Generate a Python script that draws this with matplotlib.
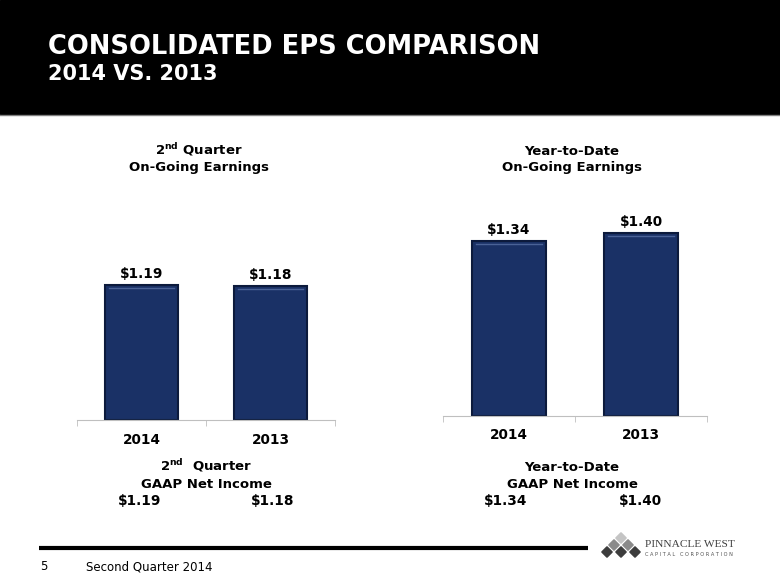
import matplotlib
matplotlib.use("Agg")
import matplotlib.pyplot as plt
from matplotlib.patches import Rectangle, Polygon

# data
years = ["2014", "2013"]
qtr_ongoing = [1.19, 1.18]
ytd_ongoing = [1.34, 1.40]
qtr_gaap = [1.19, 1.18]
ytd_gaap = [1.34, 1.40]

W, H = 780, 585
BAR = "#1a3166"
EDGE = "#0c1a3c"
AXC = "#bfbfbf"

fig = plt.figure(figsize=(7.8, 5.85), dpi=100)
fig.patch.set_facecolor("white")

# background layer in pixel coords (y down)
bg = fig.add_axes([0, 0, 1, 1])
bg.set_xlim(0, W)
bg.set_ylim(H, 0)
bg.axis("off")
bg.set_zorder(0)

bg.add_patch(Rectangle((0, 0), W, 114, color="black"))
bg.plot([0, W], [114.5, 114.5], color="#7f7f7f", lw=1)
bg.text(48, 54, "CONSOLIDATED EPS COMPARISON", color="white", fontsize=18.5,
        fontweight="bold", va="baseline")
bg.text(48, 80, "2014 VS. 2013", color="white", fontsize=15,
        fontweight="bold", va="baseline")


def panel(left, right, base, top, scale, values, title1, title_cx):
    ax = fig.add_axes([left / W, 1 - base / H, (right - left) / W, (base - top) / H])
    ax.set_zorder(1)
    ax.patch.set_alpha(0)
    ax.set_xlim(-0.5, 1.5)
    ax.set_ylim(0, (base - top) / scale)
    xs = range(len(values))
    ax.bar(xs, values, width=0.56, color=BAR, edgecolor=EDGE, lw=1.5)
    # light bevel line just under the top edge
    off = 3.0 / scale
    for i, v in enumerate(values):
        ax.plot([i - 0.25, i + 0.25], [v - off, v - off], color="#4a6296", lw=1)
        ax.annotate(f"${v:.2f}", (i, v), xytext=(0, 5), textcoords="offset points",
                    ha="center", va="baseline", fontsize=9.8, fontweight="bold")
    for s in ["left", "right", "top"]:
        ax.spines[s].set_visible(False)
    ax.spines["bottom"].set_color(AXC)
    ax.set_yticks([])
    ax.set_xticks(range(len(years)), years)
    ax.set_xticks([-0.5, 0.5, 1.5], minor=True)
    ax.tick_params(axis="x", which="major", length=0, pad=9, labelsize=9.8)
    ax.tick_params(axis="x", which="minor", length=4, color=AXC, direction="out")
    plt.setp(ax.get_xticklabels(), fontweight="bold")
    bg.text(title_cx, 155, title1, ha="center", va="baseline", fontsize=9.5, fontweight="bold")
    bg.text(title_cx, 171, "On-Going Earnings", ha="center", va="baseline",
            fontsize=9.5, fontweight="bold")
    return ax


panel(77, 335, 420, 190, 113.5, qtr_ongoing, r"2$^{\mathbf{nd}}$ Quarter", 199)
panel(443, 707, 415.7, 190, 130.5, ytd_ongoing, "Year-to-Date", 572)

# GAAP net income block
for cx, head, vals, xs in [(206, r"2$^{\mathbf{nd}}$  Quarter", qtr_gaap, (140, 273)),
                           (572, "Year-to-Date", ytd_gaap, (506, 640))]:
    bg.text(cx, 471, head, ha="center", va="baseline", fontsize=9.5, fontweight="bold")
    bg.text(cx, 488, "GAAP Net Income", ha="center", va="baseline", fontsize=9.5,
            fontweight="bold")
    for x, v in zip(xs, vals):
        bg.text(x, 505, f"${v:.2f}", ha="center", va="baseline", fontsize=9.8,
                fontweight="bold")

# footer
bg.plot([39, 588], [547.5, 547.5], color="black", lw=3, solid_capstyle="butt")
bg.text(40, 570, "5", fontsize=8.5, va="baseline")
bg.text(86, 570, "Second Quarter 2014", fontsize=8.5, va="baseline")

# logo
d = 5.2
rows = [[621], [614, 628], [607, 621, 635]]
shades = ["#c4c4c4", "#8a8a8a", "#3c3c3c"]
for r, (lx, c) in enumerate(zip(rows, shades)):
    y = 538 + r * 7
    for x in lx:
        bg.add_patch(Polygon([(x, y - d), (x + d, y), (x, y + d), (x - d, y)],
                             closed=True, color=c))
bg.text(645, 547, "PINNACLE WEST", family="Liberation Serif", fontsize=8.2,
        color="#404040", va="baseline")
bg.text(645, 556, "C A P I T A L   C O R P O R A T I O N", fontsize=3.6,
        color="#505050", va="baseline")

fig.savefig("out.png", dpi=100)
